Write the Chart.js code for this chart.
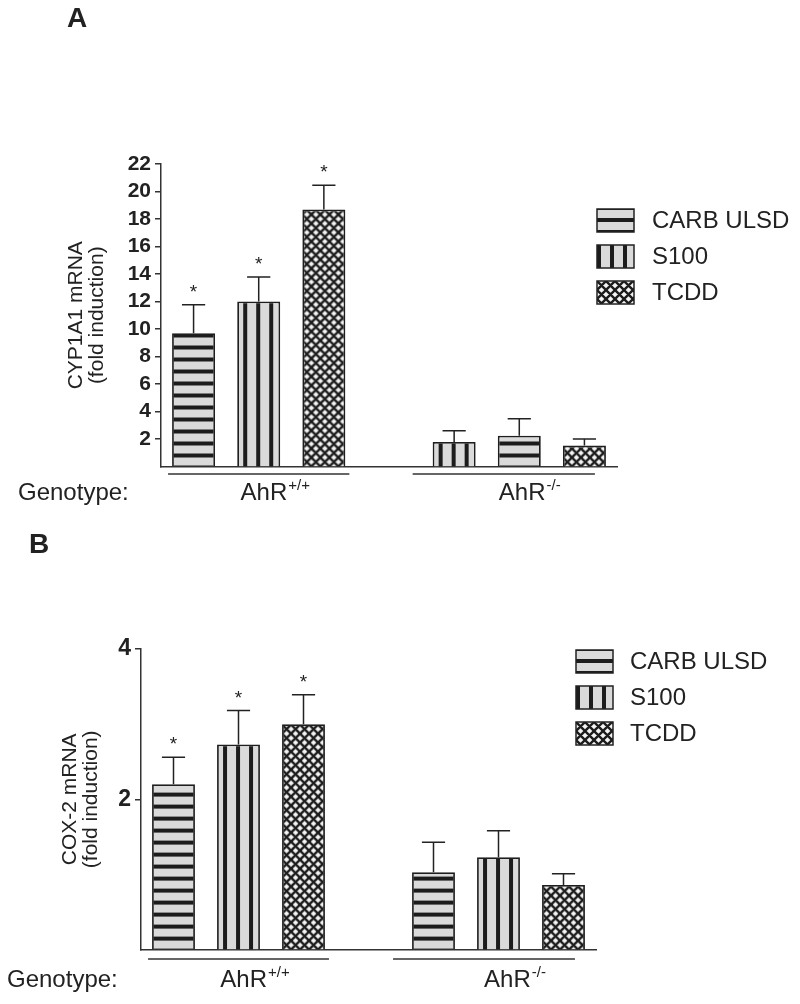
<!DOCTYPE html>
<html>
<head>
<meta charset="utf-8">
<script src="https://cdn.jsdelivr.net/npm/chart.js@4.4.0/dist/chart.umd.min.js"></script>
<style>
  html, body { margin: 0; padding: 0; background: #fff; }
  canvas { display: block; }
</style>
</head>
<body>
<canvas id="chartCyp" width="800" height="510"></canvas>
<canvas id="chartCox" width="800" height="494"></canvas>
<script>
// ---- data ----
var treatments = ['CARB ULSD', 'S100', 'TCDD'];
var genotypes = ['+/+', '-/-'];
// treatment in each bar slot, left to right (slot 4 is the gap between genotypes)
var slotsCyp = ['CARB ULSD', 'S100', 'TCDD', '', 'S100', 'CARB ULSD', 'TCDD'];
var slotsCox = ['CARB ULSD', 'S100', 'TCDD', '', 'CARB ULSD', 'S100', 'TCDD'];

var cyp1a1Mean = [9.7, 12.0, 18.7, null, 1.78, 2.24, 1.52];
var cyp1a1Sem  = [2.07, 1.78, 1.75, null, 0.82, 1.24, 0.48];
var cyp1a1Sig  = [true, true, true, false, false, false, false];

var cox2Mean = [2.20, 2.73, 3.00, null, 1.03, 1.23, 0.86];
var cox2Sem  = [0.36, 0.45, 0.39, null, 0.40, 0.35, 0.15];
var cox2Sig  = [true, true, true, false, false, false, false];

// ---- style ----
var FONT = "Arial, 'Liberation Sans', Helvetica, sans-serif";
var INK = '#222';
var LIGHT = '#dadada';
var DARK = '#1c1c1c';
var BAR_FRAC = 0.66;
var KIND = { 'CARB ULSD': 'h', 'S100': 'v', 'TCDD': 'x' };

Chart.defaults.font.family = FONT;
Chart.defaults.color = INK;

function makePattern(ctx, kind, dx, dy) {
    var t = document.createElement('canvas');
    var g = t.getContext('2d');
    if (kind === 'h') {
        t.width = 1; t.height = 12;
        g.fillStyle = LIGHT; g.fillRect(0, 0, 1, 12);
        g.fillStyle = DARK; g.fillRect(0, 0, 1, 4);
    } else if (kind === 'v') {
        t.width = 13; t.height = 1;
        g.fillStyle = LIGHT; g.fillRect(0, 0, 13, 1);
        g.fillStyle = DARK; g.fillRect(6, 0, 4, 1);
    } else {
        // crosshatch: dark diagonal lattice with light diamonds
        var s = 9;
        t.width = s; t.height = s;
        g.fillStyle = '#f4f4f4'; g.fillRect(0, 0, s, s);
        g.strokeStyle = DARK; g.lineWidth = 2.4;
        g.beginPath();
        [-s, 0, s].forEach(function(o) {
            g.moveTo(-2, -2 + o); g.lineTo(s + 2, s + 2 + o);
            g.moveTo(-2, s + 2 + o); g.lineTo(s + 2, -2 + o);
        });
        g.stroke();
    }
    var p = ctx.createPattern(t, 'repeat');
    p.setTransform(new DOMMatrix().translate(dx, dy));
    return p;
}

function makeDecor(cfg) {
    return {
        id: 'decor_' + cfg.id,
        afterDatasetsDraw: function(chart) {
            var ctx = chart.ctx, meta = chart.getDatasetMeta(0), ys = chart.scales.y;
            ctx.save();
            ctx.strokeStyle = INK;
            ctx.lineWidth = 1.5;
            cfg.means.forEach(function(m, i) {
                if (m === null) return;
                var bar = meta.data[i];
                var top = ys.getPixelForValue(m + cfg.sems[i]);
                var cap = bar.width * 0.27;
                ctx.beginPath();
                ctx.moveTo(bar.x, bar.y); ctx.lineTo(bar.x, top);
                ctx.moveTo(bar.x - cap, top); ctx.lineTo(bar.x + cap, top);
                ctx.stroke();
                if (cfg.sig[i]) {
                    ctx.fillStyle = INK;
                    ctx.font = '19px ' + FONT;
                    ctx.textAlign = 'center';
                    ctx.textBaseline = 'alphabetic';
                    ctx.fillText('*', bar.x, top - 7);
                }
            });
            ctx.restore();
        },
        afterDraw: function(chart) {
            var ctx = chart.ctx, meta = chart.getDatasetMeta(0);
            ctx.save();
            ctx.fillStyle = INK;
            // panel letter
            ctx.font = 'bold 28px ' + FONT;
            ctx.textAlign = 'left';
            ctx.textBaseline = 'alphabetic';
            ctx.fillText(cfg.letter, cfg.letterX, cfg.letterY);

            // legend
            var lg = cfg.legend;
            treatments.forEach(function(t, k) {
                var y = lg.y + k * lg.step;
                var dy = KIND[t] === 'h' ? y + 9 : y;
                var dx = KIND[t] === 'v' ? lg.x - 6 : lg.x;
                ctx.fillStyle = makePattern(ctx, KIND[t], dx, dy);
                ctx.fillRect(lg.x, y, 37, 23);
                ctx.strokeStyle = INK; ctx.lineWidth = 1.5;
                ctx.strokeRect(lg.x, y, 37, 23);
                ctx.fillStyle = INK;
                ctx.font = '24px ' + FONT;
                ctx.textBaseline = 'middle';
                ctx.fillText(t, lg.textX, y + 12.5);
            });

            // genotype row
            ctx.strokeStyle = '#333';
            ctx.lineWidth = 1.5;
            ctx.textBaseline = 'alphabetic';
            ctx.font = '24px ' + FONT;
            ctx.fillText('Genotype:', cfg.genoX, cfg.textY);
            [[0, 2], [4, 6]].forEach(function(g, gi) {
                var a = meta.data[g[0]], b = meta.data[g[1]];
                var left = a.x - a.width / 2, right = b.x + b.width / 2;
                ctx.beginPath();
                ctx.moveTo(left + cfg.lineShift[gi][0], cfg.lineY);
                ctx.lineTo(right + cfg.lineShift[gi][1], cfg.lineY);
                ctx.stroke();
                var mid = (left + right) / 2 + cfg.labelShift[gi];
                ctx.font = '24px ' + FONT;
                var w1 = ctx.measureText('AhR').width;
                ctx.font = '15px ' + FONT;
                var w2 = ctx.measureText(genotypes[gi]).width;
                var x0 = mid - (w1 + w2) / 2;
                ctx.font = '24px ' + FONT;
                ctx.fillText('AhR', x0, cfg.textY);
                ctx.font = '15px ' + FONT;
                ctx.fillText(genotypes[gi], x0 + w1 + 1, cfg.textY - 10);
            });
            ctx.restore();
        }
    };
}

function buildChart(cfg) {
    var n = cfg.slots.length;
    var labels = cfg.slots.map(function(t, i) {
        if (!t) return '';
        return 'AhR' + (i < 3 ? genotypes[0] : genotypes[1]) + ' ' + t;
    });
    return new Chart(document.getElementById(cfg.id), {
        type: 'bar',
        data: {
            labels: labels,
            datasets: [{
                data: cfg.means,
                backgroundColor: function(c) {
                    var t = cfg.slots[c.dataIndex];
                    var xs = c.chart.scales.x;
                    if (!t) return 'rgba(0,0,0,0)';
                    if (!xs || !c.chart.chartArea) return LIGHT;
                    var w = xs.width / n * BAR_FRAC;
                    var left = xs.getPixelForValue(c.dataIndex) - w / 2;
                    var bottom = c.chart.chartArea.bottom;
                    var kind = KIND[t];
                    var dy = kind === 'h' ? bottom - 13 : bottom;
                    return makePattern(c.chart.ctx, kind, left, dy);
                },
                borderColor: '#1e1e1e',
                borderWidth: 1.8,
                borderSkipped: 'start',
                categoryPercentage: 1,
                barPercentage: BAR_FRAC
            }]
        },
        options: {
            responsive: false,
            animation: false,
            events: [],
            layout: { padding: cfg.padding },
            plugins: {
                legend: { display: false },
                tooltip: { enabled: false }
            },
            scales: {
                x: {
                    grid: { display: false },
                    ticks: { display: false },
                    border: { display: true, color: '#333', width: 1.5 },
                    afterFit: function(scale) { scale.height = 0; }
                },
                y: {
                    min: 0,
                    max: cfg.yMax,
                    ticks: {
                        stepSize: cfg.yStep,
                        padding: 4,
                        color: INK,
                        font: { size: cfg.tickSize, weight: 'bold' }
                    },
                    afterBuildTicks: function(scale) {
                        scale.ticks = scale.ticks.filter(function(t) { return t.value !== 0; });
                    },
                    grid: {
                        display: true,
                        drawOnChartArea: false,
                        drawTicks: true,
                        tickLength: 6,
                        color: '#333',
                        lineWidth: 1.5
                    },
                    border: { display: true, color: '#333', width: 1.5 },
                    title: {
                        display: true,
                        text: cfg.yTitle,
                        color: INK,
                        padding: 0,
                        font: { size: 21, lineHeight: 1 }
                    },
                    afterFit: function(scale) { scale.width = cfg.yWidth; }
                }
            }
        },
        plugins: [makeDecor(cfg)]
    });
}

buildChart({
    id: 'chartCyp',
    slots: slotsCyp,
    means: cyp1a1Mean,
    sems: cyp1a1Sem,
    sig: cyp1a1Sig,
    yMax: 22,
    yStep: 2,
    tickSize: 21,
    yTitle: ['CYP1A1 mRNA', '(fold induction)'],
    padding: { left: 66, top: 164, right: 183, bottom: 43.5 },
    yWidth: 95,
    letter: 'A', letterX: 67, letterY: 27,
    legend: { x: 597, y: 209, step: 36, textX: 652 },
    genoX: 18, lineY: 474, textY: 500,
    lineShift: [[-4, 4], [-20, -11]],
    labelShift: [16, 10]
});

buildChart({
    id: 'chartCox',
    slots: slotsCox,
    means: cox2Mean,
    sems: cox2Sem,
    sig: cox2Sig,
    yMax: 4,
    yStep: 2,
    tickSize: 23,
    yTitle: ['COX-2 mRNA', '(fold induction)'],
    padding: { left: 59.5, top: 139, right: 204, bottom: 54.4 },
    yWidth: 81.5,
    letter: 'B', letterX: 29, letterY: 43,
    legend: { x: 576, y: 140, step: 36, textX: 630 },
    genoX: 7, lineY: 449, textY: 477,
    lineShift: [[-4, 4], [-19, -10]],
    labelShift: [16, 16]
});
</script>
</body>
</html>
